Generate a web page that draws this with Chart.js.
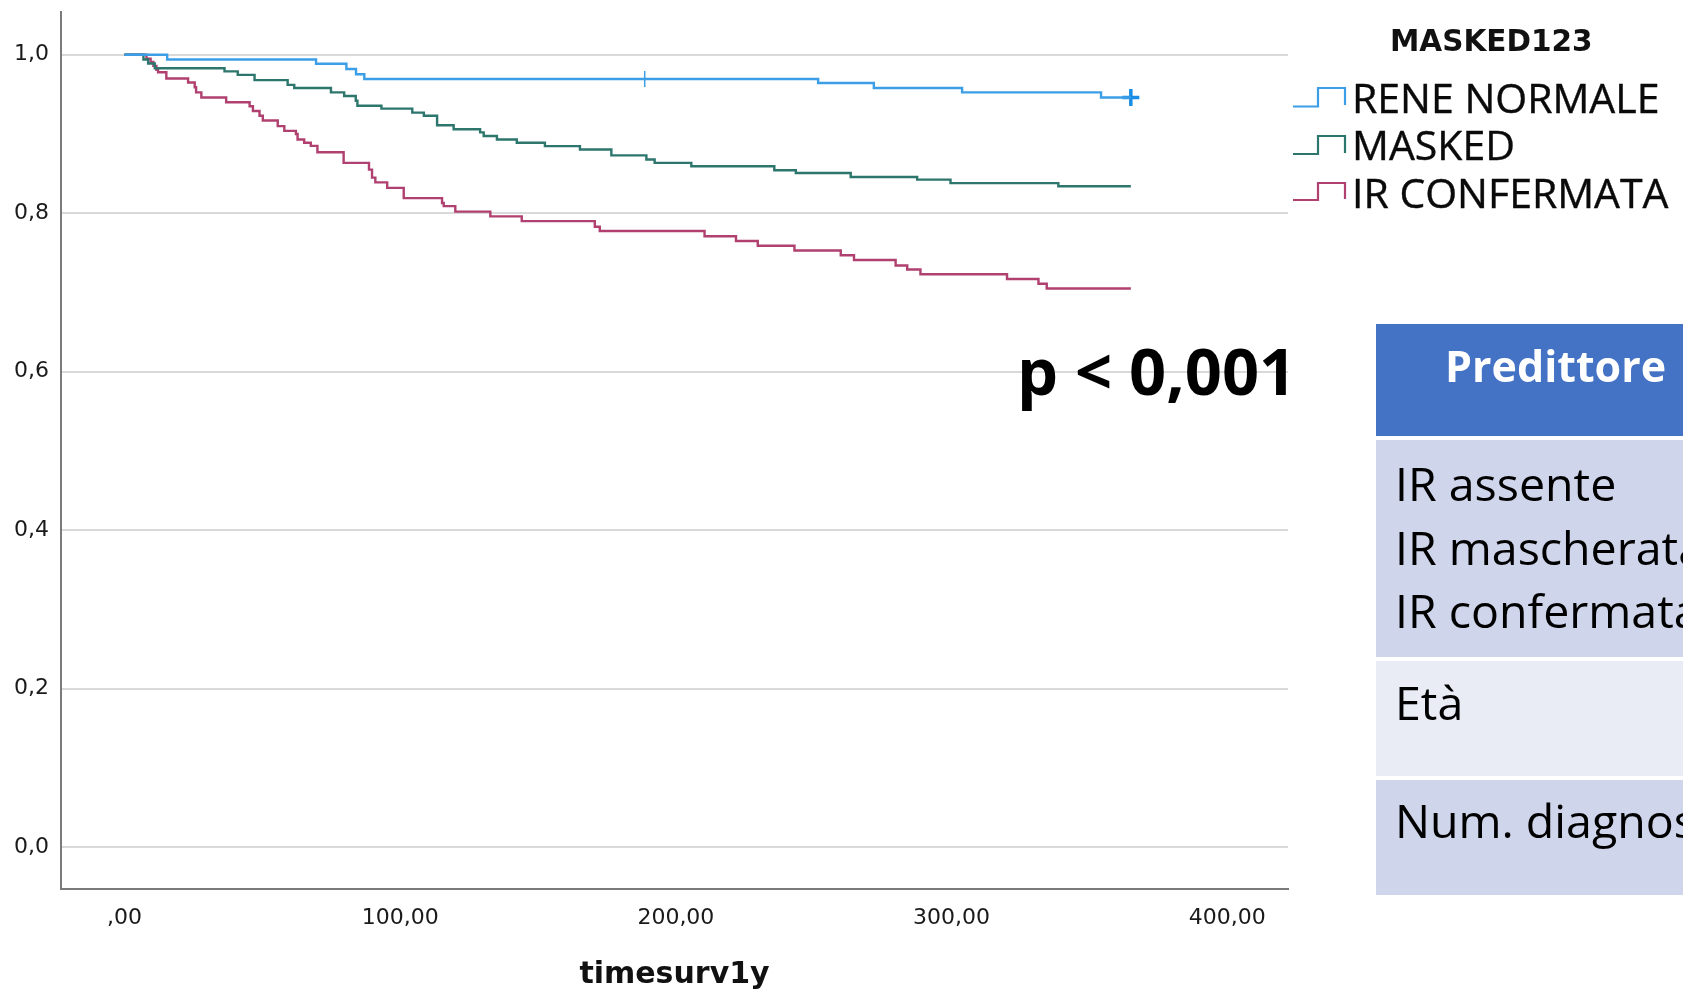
<!DOCTYPE html>
<html>
<head>
<meta charset="utf-8">
<script src="https://cdn.jsdelivr.net/npm/chart.js"></script>
<style>
  html, body { margin: 0; padding: 0; background: #fff; }
  #wrap { position: relative; width: 1683px; height: 993px; overflow: hidden; }
  #km { position: absolute; left: 0; top: 0; }
  #side { position: absolute; left: 0; top: 0; }
</style>
</head>
<body>
<div id="wrap">
  <canvas id="km" width="1300" height="993"></canvas>
  <svg id="side" width="1683" height="993">
    <!-- legend -->
    <text x="1390" y="51" font-family="DejaVu Sans" font-weight="bold" font-size="29.5" fill="#111">MASKED123</text>
    <polyline points="1293,106.5 1318,106.5 1318,88 1345,88 1345,105" fill="none" stroke="#3b9ee6" stroke-width="2.2"/>
    <polyline points="1293,154 1318,154 1318,136 1345,136 1345,153" fill="none" stroke="#2c766d" stroke-width="2.2"/>
    <polyline points="1293,200 1318,200 1318,183 1345,183 1345,199" fill="none" stroke="#b0406f" stroke-width="2.2"/>
    <g font-family="Open Sans" font-size="41" fill="#0a0a0a" stroke="#0a0a0a" stroke-width="0.4">
      <text x="1352" y="113">RENE NORMALE</text>
      <text x="1352" y="160">MASKED</text>
      <text x="1352" y="208">IR CONFERMATA</text>
    </g>
    <!-- p value -->
    <text x="1017" y="395" font-family="Open Sans" font-weight="bold" font-size="65" fill="#000">p &lt; 0,001</text>
    <!-- table -->
    <rect x="1376" y="324" width="320" height="112" fill="#4472c4"/>
    <rect x="1376" y="440" width="320" height="217" fill="#cfd5ea"/>
    <rect x="1376" y="661" width="320" height="115" fill="#e9ebf5"/>
    <rect x="1376" y="780" width="320" height="115" fill="#cfd5ea"/>
    <text x="1445" y="382" font-family="Open Sans" font-weight="bold" font-size="43" fill="#fff">Predittore</text>
    <g font-family="Open Sans" font-size="46.5" fill="#000">
      <text x="1395" y="501">IR assente</text>
      <text x="1395" y="565">IR mascherata</text>
      <text x="1395" y="628">IR confermata</text>
      <text x="1395" y="720">Età</text>
      <text x="1395" y="838">Num. diagnosi</text>
    </g>
  </svg>
</div>
<script>
//survival steps (time in days, cumulative survival)
var reneTimes = [0, 15.5, 69.5, 80.5, 84, 87, 251.6, 271.8, 303.8, 354.2, 365];
var reneSurv = [1.0, 0.994, 0.9886, 0.982, 0.9754, 0.9695, 0.9644, 0.958, 0.9525, 0.946, 0.946];

var maskedTimes = [0, 6.9, 8.6, 11.0, 36.3, 41.1, 47.2, 59.2, 61.6, 74.9, 79.7, 83.9, 84.5, 93.2, 104.4, 108.6, 113.4, 119.4, 129, 130.3, 135.1, 142.3, 152.5, 165.2, 176.6, 189.3, 192.3, 205.6, 235.7, 243.5, 263.4, 287.5, 299.6, 338.7, 365];
var maskedSurv = [1.0, 0.994, 0.989, 0.983, 0.979, 0.9746, 0.968, 0.962, 0.958, 0.9525, 0.948, 0.942, 0.9356, 0.932, 0.927, 0.923, 0.911, 0.906, 0.902, 0.8975, 0.893, 0.889, 0.8847, 0.8805, 0.873, 0.8678, 0.8636, 0.8593, 0.8542, 0.8508, 0.8458, 0.8424, 0.838, 0.834, 0.834];

var confTimes = [0, 8, 9.5, 10.5, 11.6, 12.2, 15.2, 23.1, 25.5, 26, 27.9, 36.9, 45.4, 46.6, 49, 50.2, 55.6, 58, 62.2, 62.8, 65.2, 67.6, 70, 79.5, 88.7, 89.8, 91, 95.3, 101.3, 115.2, 115.8, 120, 132.7, 144.1, 170.6, 172.4, 210.4, 221.8, 229.7, 243, 259.8, 264.6, 279.7, 283.9, 288.7, 320.1, 331.5, 334.5, 365];
var confSurv = [1.0, 0.995, 0.991, 0.986, 0.981, 0.978, 0.970, 0.965, 0.959, 0.9526, 0.946, 0.940, 0.935, 0.929, 0.923, 0.917, 0.910, 0.904, 0.900, 0.893, 0.889, 0.885, 0.877, 0.8636, 0.855, 0.845, 0.839, 0.832, 0.819, 0.813, 0.809, 0.802, 0.796, 0.790, 0.783, 0.7775, 0.771, 0.765, 0.759, 0.753, 0.747, 0.741, 0.734, 0.729, 0.723, 0.717, 0.711, 0.705, 0.705];

//censored marks (only the RENE NORMALE group shows them)
var reneCensorTimes = [188.7, 365];
var reneCensorSurv = [0.9695, 0.946];

//tick labels
var xTicks = [0, 100, 200, 300, 400];
var yTicks = [0, 0.2, 0.4, 0.6, 0.8, 1.0];

function toPoints(xs, ys) {
    return xs.map(function (x, i) { return { x: x, y: ys[i] }; });
}

//comma decimals like the SPSS output
function fmtX(v) {
    var s = v.toFixed(2).replace('.', ',');
    return v === 0 ? ',00' : s;
}

var chartData = {
    datasets: [
        {
            label: "RENE NORMALE",
            data: toPoints(reneTimes, reneSurv),
            borderColor: "#3b9ee6",
            borderWidth: 2.4,
            stepped: 'before',
            pointRadius: 0
        },
        {
            label: "MASKED",
            data: toPoints(maskedTimes, maskedSurv),
            borderColor: "#2c766d",
            borderWidth: 2.4,
            stepped: 'before',
            pointRadius: 0
        },
        {
            label: "IR CONFERMATA",
            data: toPoints(confTimes, confSurv),
            borderColor: "#b0406f",
            borderWidth: 2.4,
            stepped: 'before',
            pointRadius: 0
        },
        {
            label: "censored",
            data: toPoints(reneCensorTimes, reneCensorSurv),
            showLine: false,
            pointStyle: 'cross',
            pointRadius: [8, 8.5],
            pointBorderWidth: [1.5, 3.5],
            pointBorderColor: ["#3b9ee6", "#1a8de6"],
            borderColor: "#3b9ee6"
        }
    ]
};

var tickFont = { family: "DejaVu Sans", size: 22 };

var config = {
    responsive: false,
    animation: false,
    events: [],
    layout: {
        padding: { top: 10.7, right: 9, bottom: 0, left: 0 }
    },
    plugins: {
        legend: { display: false },
        tooltip: { enabled: false },
        title: { display: false }
    },
    scales: {
        x: {
            type: 'linear',
            min: -23,
            max: 422,
            afterFit: function (s) {
                s.height = 104;
                s.paddingLeft = 0;
                s.paddingRight = 0;
            },
            afterBuildTicks: function (axis) {
                axis.ticks = xTicks.map(function (v) { return { value: v }; });
            },
            grid: { display: false, drawTicks: false },
            border: { display: true, color: "#7a7a7a", width: 2 },
            ticks: {
                padding: 16,
                color: "#1a1a1a",
                font: tickFont,
                callback: function (v) { return fmtX(v); }
            },
            title: {
                display: true,
                text: "timesurv1y",
                color: "#111",
                font: { family: "DejaVu Sans", weight: "bold", size: 30 },
                padding: { top: 0, bottom: 0 }
            }
        },
        y: {
            min: -0.053,
            max: 1.054,
            afterFit: function (s) {
                s.width = 61;
                s.paddingTop = 0;
                s.paddingBottom = 0;
            },
            afterBuildTicks: function (axis) {
                axis.ticks = yTicks.map(function (v) { return { value: v }; });
            },
            grid: { color: "#d9d9d9", lineWidth: 2, drawTicks: false },
            border: { display: true, color: "#7a7a7a", width: 2 },
            ticks: {
                padding: 12,
                color: "#1a1a1a",
                font: tickFont,
                callback: function (v) { return v.toFixed(1).replace('.', ','); }
            }
        }
    }
};

var ctx = document.getElementById("km"),
    kmChart = new Chart(ctx, {
        type: 'line',
        data: chartData,
        options: config
    });
</script>
</body>
</html>
